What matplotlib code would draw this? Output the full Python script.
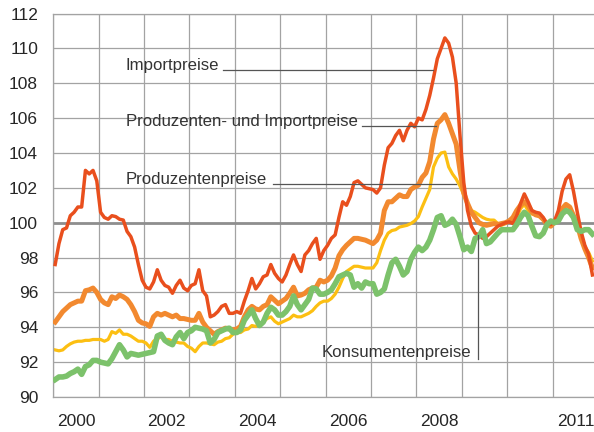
import numpy as np
import matplotlib
matplotlib.use("Agg")
import matplotlib.pyplot as plt

plt.rcParams['font.family'] = ['Liberation Sans', 'DejaVu Sans']

# monthly index values, Jan 2000 - Nov 2011 (2008 = 100 approx.)
importpreise = [
    97.6, 98.8, 99.6, 99.7, 100.4, 100.6, 100.9, 100.9, 103.0, 102.8, 103.0, 102.4,
    100.6, 100.3, 100.2, 100.4, 100.35, 100.2, 100.15, 99.5, 99.2, 98.6, 97.6, 96.7,
    96.3, 96.2, 96.6, 97.3, 96.7, 96.4, 96.3, 95.95, 96.4, 96.7, 96.25, 96.1,
    96.4, 96.5, 97.3, 96.1, 95.8, 94.6, 94.7, 94.9, 95.2, 95.3, 94.8, 94.8,
    94.9, 94.8, 95.5, 96.1, 96.8, 96.2, 96.5, 96.9, 97.0, 97.6, 97.1, 96.8,
    96.6, 97.0, 97.6, 98.15, 97.6, 97.2, 98.15, 98.4, 98.8, 99.1, 97.9, 98.4,
    98.7, 99.1, 99.3, 100.3, 101.2, 101.0, 101.5, 102.3, 102.4, 102.2, 102.0, 101.95,
    101.9, 101.7, 102.0, 103.3, 104.3, 104.55, 105.0, 105.3, 104.7, 105.3, 105.7, 105.5,
    106.0, 105.9, 106.5, 107.3, 108.3, 109.4, 110.0, 110.6, 110.3, 109.5, 108.0, 105.0,
    102.3, 100.7, 99.8, 99.4, 99.3, 99.1, 99.2, 99.4, 99.6, 99.8, 99.9, 100.0,
    100.05, 99.95, 100.4, 101.1, 101.65, 101.2, 100.7, 100.6, 100.55, 100.3, 99.9, 99.9,
    100.1, 100.7, 101.8, 102.5, 102.75, 101.8, 100.6, 99.5, 98.7, 98.2, 97.0,
]
prod_import = [
    94.3, 94.6, 94.9, 95.1, 95.3, 95.4, 95.5, 95.5, 96.1, 96.15, 96.25, 96.0,
    95.6, 95.4, 95.3, 95.75, 95.65, 95.85, 95.75, 95.6, 95.3, 94.9, 94.4, 94.25,
    94.2, 94.05, 94.6, 94.8, 94.7, 94.8, 94.7, 94.6, 94.7, 94.5, 94.5, 94.45,
    94.4, 94.4, 94.8, 94.3, 94.0, 93.8, 93.6, 93.75, 93.85, 93.95, 93.9, 93.85,
    93.9, 94.05, 94.6, 95.0, 95.2, 95.05, 95.0, 95.2, 95.3, 95.75, 95.55, 95.35,
    95.5, 95.65, 95.95, 96.3, 95.8, 95.85, 95.95, 96.15, 96.25, 96.3, 96.7, 96.6,
    96.7, 96.95, 97.4, 98.1, 98.45, 98.7, 98.9, 99.1, 99.1, 99.05, 99.0, 98.9,
    98.8, 99.0, 99.4, 100.7, 101.2, 101.2, 101.4, 101.6, 101.5, 101.5, 101.9, 102.05,
    102.15, 102.6, 102.85, 103.5, 104.8, 105.7, 105.9, 106.2, 105.7, 105.1, 104.5, 103.0,
    101.7, 101.1, 100.6, 100.3, 100.0, 99.9, 99.85, 99.9, 99.95, 99.9, 99.95, 100.0,
    100.1, 100.3, 100.7, 101.0, 101.2, 101.0, 100.6, 100.45, 100.4, 100.2, 99.9, 99.8,
    100.05, 100.4, 100.8, 101.05, 100.9, 100.4, 99.9, 99.1, 98.5, 98.0, 97.4,
]
produzentenpreise = [
    92.7, 92.65, 92.7, 92.9, 93.05, 93.15, 93.2, 93.2, 93.25, 93.25, 93.3, 93.3,
    93.3, 93.2, 93.3, 93.75, 93.65, 93.85, 93.6, 93.6, 93.5, 93.35, 93.2, 93.2,
    93.1, 92.85, 93.2, 93.35, 93.45, 93.3, 93.3, 93.2, 93.15, 93.1, 93.1, 92.9,
    92.8, 92.6, 92.9, 93.1, 93.1, 93.05, 93.0, 93.15, 93.2, 93.35, 93.4, 93.6,
    93.7, 93.7, 93.85, 93.9, 94.1, 94.05, 94.2, 94.3, 94.5, 94.6, 94.35, 94.2,
    94.3, 94.4, 94.5, 94.7, 94.6, 94.6, 94.7, 94.8, 94.95, 95.2, 95.4, 95.5,
    95.5, 95.65, 95.9, 96.3, 96.8, 97.2, 97.35, 97.5, 97.5, 97.45, 97.4, 97.4,
    97.4, 97.7, 98.4, 99.0, 99.4, 99.55, 99.6, 99.75, 99.8, 99.85, 99.95, 100.1,
    100.35, 100.9, 101.4, 101.9, 103.2, 103.7, 104.0, 104.05, 103.2, 102.8, 102.5, 102.1,
    101.6, 101.1, 100.7, 100.6, 100.45, 100.3, 100.2, 100.15, 100.15, 99.95, 99.85, 99.95,
    100.15, 100.05, 100.3, 100.8, 101.05, 100.7, 100.5, 100.45, 100.35, 100.15, 99.9, 99.85,
    100.0, 100.4, 100.8, 101.0, 100.9, 100.3, 99.8, 99.3, 98.6, 98.3, 97.8,
]
konsumentenpreise = [
    91.0, 91.15, 91.15, 91.2, 91.35, 91.45, 91.6, 91.3, 91.75, 91.85, 92.1, 92.1,
    92.0, 91.95, 91.9, 92.2, 92.6, 93.0, 92.7, 92.3, 92.5, 92.45, 92.4, 92.45,
    92.5, 92.55, 92.6, 93.5, 93.6, 93.25, 93.1, 93.0, 93.45, 93.7, 93.35, 93.7,
    93.8, 94.0, 93.95, 93.9, 93.8, 93.1, 93.3, 93.7, 93.8, 93.9, 93.95, 93.7,
    93.7, 93.85, 94.4, 94.7, 95.0, 94.5, 94.1, 94.3, 94.8, 95.15, 95.0, 94.7,
    94.7, 94.9, 95.2, 95.8, 95.3, 95.0, 95.3, 95.6, 96.25, 96.2, 95.9, 95.9,
    96.0, 96.15, 96.5, 96.9, 97.0, 97.1, 97.0, 96.3, 96.5, 96.25, 96.6, 96.5,
    96.5, 95.9, 96.0, 96.2, 97.0, 97.7, 97.9, 97.5, 97.0, 97.2, 97.9, 98.3,
    98.6, 98.4, 98.6, 99.0, 99.6, 100.3, 100.4, 99.85, 99.95, 100.2, 99.9, 99.2,
    98.45, 98.6, 98.35, 99.1, 99.2, 99.6, 98.8, 98.9, 99.15, 99.4, 99.6, 99.6,
    99.6, 99.6, 99.9, 100.3, 100.6, 100.4, 99.8, 99.25, 99.2, 99.4, 99.9, 100.1,
    100.0, 100.1, 100.5, 100.7, 100.6, 100.3, 99.6, 99.5, 99.6, 99.6, 99.35,
]

year_labels = ['2000', '2002', '2004', '2006', '2008', '2011']
year_label_pos = [2000.5, 2002.5, 2004.5, 2006.5, 2008.5, 2011.5]

# month i plotted in the middle of the month
t = 2000 + (np.arange(len(importpreise)) + 0.5) / 12

fig = plt.figure(figsize=(5.94, 4.32), dpi=100)
ax = fig.add_axes([0.0897, 0.081, 0.9103, 0.8877])

grid_col = '#a3a3a3'
ax.set_xlim(2000, 2011.91)
ax.set_ylim(90, 112)
ax.set_xticks(np.arange(2000, 2012))
ax.set_xticklabels([])
ax.set_xticks(year_label_pos, minor=True)
ax.set_xticklabels(year_labels, minor=True)
ax.set_yticks(np.arange(90, 113, 2))
ax.tick_params(which='both', length=0, labelsize=12.5, colors='#262626')
ax.tick_params(axis='y', pad=11)
ax.tick_params(axis='x', which='minor', pad=12)
ax.grid(True, which='major', color=grid_col, lw=0.9, zorder=0)
ax.set_axisbelow(True)
for s in ['left', 'top', 'bottom']:
    ax.spines[s].set_color(grid_col)
    ax.spines[s].set_linewidth(0.9)
ax.spines['right'].set_visible(False)

ax.axhline(100, color='#8e8e8e', lw=2.0, zorder=1)

ax.plot(t, produzentenpreise, color='#fcbf12', lw=2.3, zorder=2)
ax.plot(t, prod_import, color='#f2892f', lw=3.6, zorder=3)
ax.plot(t, importpreise, color='#e94f1d', lw=2.5, zorder=4)
ax.plot(t, konsumentenpreise, color='#7cc26b', lw=4.0, zorder=5)

# labels with leader lines
txt = dict(fontsize=12.1, color='#333333', va='baseline', ha='left')
lead = dict(color='#555555', lw=0.9, zorder=6)

ax.text(2001.6, 108.78, 'Importpreise', **txt)
ax.plot([2003.73, 2008.37], [108.78, 108.78], **lead)

ax.text(2001.6, 105.55, 'Produzenten- und Importpreise', **txt)
ax.plot([2006.8, 2008.44], [105.55, 105.55], **lead)

ax.text(2001.6, 102.2, 'Produzentenpreise', **txt)
ax.plot([2004.83, 2008.87], [102.2, 102.2], **lead)

ax.text(2009.2, 92.3, 'Konsumentenpreise', fontsize=12.1, color='#333333',
        va='baseline', ha='right')
ax.plot([2009.36, 2009.36], [92.2, 99.3], **lead)

fig.savefig('out.png', dpi=100)
